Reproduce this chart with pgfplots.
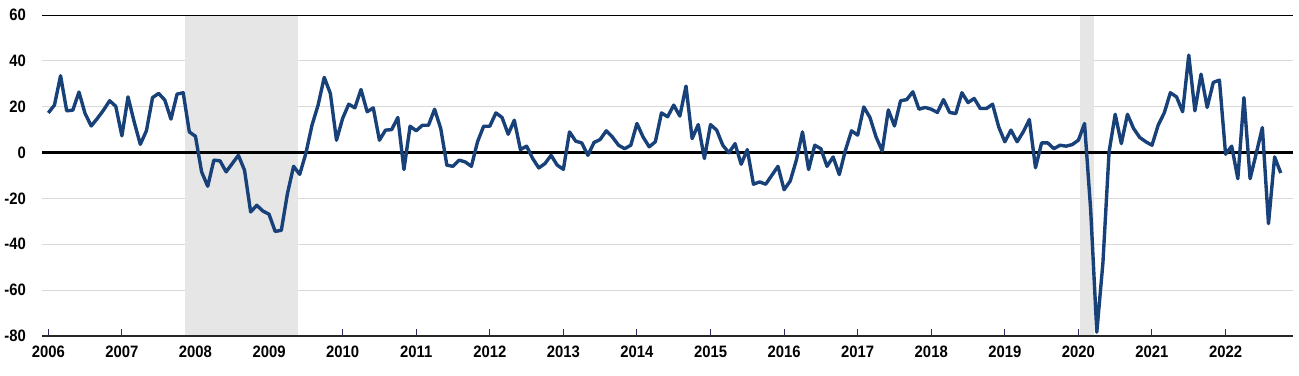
\documentclass[border=0pt]{standalone}
\usepackage{pgfplots}
\pgfplotsset{compat=1.18}
\usepackage{fontspec}
\setmainfont{Liberation Sans}[FakeStretch=0.9]
\definecolor{lineblue}{HTML}{174178}
\definecolor{shade}{HTML}{E6E6E6}
\definecolor{gridc}{HTML}{D9D9D9}
\definecolor{tickc}{HTML}{2B2B5E}
\begin{document}
\begin{tikzpicture}
\begin{axis}[
  scale only axis,
  width=1251pt, height=321pt,
  xmin=-1.03, xmax=203,
  ymin=-80, ymax=60,
  clip=false,
  axis line style={draw=none},
  xtick={0,12,...,192},
  xticklabels={2006,2007,2008,2009,2010,2011,2012,2013,2014,2015,2016,2017,2018,2019,2020,2021,2022},
  ytick={-80,-60,-40,-20,0,20,40,60},
  yticklabels={-80,-60,-40,-20,0,20,40,60},
  xtick pos=bottom,
  tick align=inside,
  major tick length=7pt,
  x tick style={tickc, line width=1pt},
  y tick style={draw=none},
  ymajorgrids,
  grid style={gridc, line width=1pt},
  tick label style={font=\bfseries\fontsize{16.5}{19}\selectfont, inner sep=0pt},
  xticklabel style={anchor=north, yshift=-10pt},
  yticklabel style={anchor=east, xshift=-16pt},
]
% recession shading
\addplot[fill=shade, draw=none] coordinates {(22.3,-80) (22.3,60) (40.7,60) (40.7,-80)} -- cycle;
\addplot[fill=shade, draw=none] coordinates {(168.3,-80) (168.3,60) (170.6,60) (170.6,-80)} -- cycle;
% reference lines
\addplot[black, line width=1pt] coordinates {(-1.03,60) (203,60)};
\addplot[black, line width=2.2pt] coordinates {(-1.03,0) (203,0)};
\addplot[black!85, line width=2pt] coordinates {(-1.03,-80) (203,-80)};
% data
\addplot[lineblue, line width=3.4pt, line join=round] table {
x y
0 17.3
1 20.7
2 33.5
3 18.2
4 18.5
5 26.4
6 17.0
7 11.6
8 14.9
9 18.5
10 22.6
11 20.2
12 7.3
13 24.3
14 13.4
15 3.6
16 9.5
17 24.0
18 25.8
19 22.9
20 14.6
21 25.5
22 26.1
23 9.0
24 7.1
25 -8.4
26 -14.7
27 -3.3
28 -3.6
29 -8.4
30 -4.8
31 -1.2
32 -7.7
33 -25.9
34 -23.0
35 -25.5
36 -26.9
37 -34.4
38 -33.9
39 -17.9
40 -6.0
41 -9.5
42 -0.4
43 11.9
44 20.7
45 32.8
46 25.8
47 5.4
48 14.9
49 21.1
50 19.5
51 27.5
52 17.8
53 19.5
54 5.4
55 9.8
56 10.0
57 15.3
58 -7.4
59 11.5
60 9.5
61 11.9
62 11.9
63 18.9
64 10.5
65 -5.5
66 -6.0
67 -3.3
68 -4.1
69 -6.0
70 4.7
71 11.5
72 11.5
73 17.3
74 15.3
75 8.0
76 14.1
77 1.3
78 2.8
79 -2.6
80 -6.7
81 -4.8
82 -1.2
83 -5.5
84 -7.3
85 9.0
86 5.0
87 4.2
88 -1.2
89 4.4
90 5.7
91 9.5
92 6.8
93 3.2
94 1.7
95 3.2
96 12.7
97 6.8
98 2.5
99 4.7
100 17.3
101 15.6
102 20.7
103 15.9
104 29.0
105 6.1
106 12.2
107 -2.6
108 12.2
109 9.8
110 3.2
111 -0.1
112 3.9
113 -5.1
114 1.3
115 -13.8
116 -12.8
117 -13.8
118 -9.9
119 -6.0
120 -16.2
121 -12.4
122 -3.3
123 9.0
124 -7.4
125 3.2
126 1.7
127 -6.0
128 -1.9
129 -9.6
130 1.0
131 9.5
132 7.6
133 19.9
134 15.3
135 6.8
136 0.7
137 18.6
138 11.6
139 22.6
140 23.1
141 26.5
142 18.9
143 19.7
144 18.9
145 17.5
146 23.1
147 17.5
148 17.0
149 26.1
150 21.8
151 23.6
152 19.2
153 19.2
154 21.1
155 11.2
156 4.7
157 9.8
158 4.7
159 9.0
160 14.4
161 -6.6
162 4.2
163 4.2
164 1.7
165 3.2
166 2.8
167 3.5
168 5.4
169 12.7
170 -25.0
171 -78.3
172 -48.0
173 0.3
174 16.7
175 3.9
176 16.7
177 10.5
178 6.6
179 4.7
180 3.2
181 11.9
182 17.3
183 26.1
184 24.3
185 17.8
186 42.5
187 18.2
188 34.2
189 19.7
190 30.6
191 31.6
192 -0.7
193 2.8
194 -11.4
195 24.0
196 -11.4
197 -0.4
198 10.9
199 -31.0
200 -1.9
201 -8.9
};
\end{axis}
\path (current axis.south west) ++(-42pt,-40pt);
\path (current axis.north east) ++(6pt,15pt);
\end{tikzpicture}
\end{document}
